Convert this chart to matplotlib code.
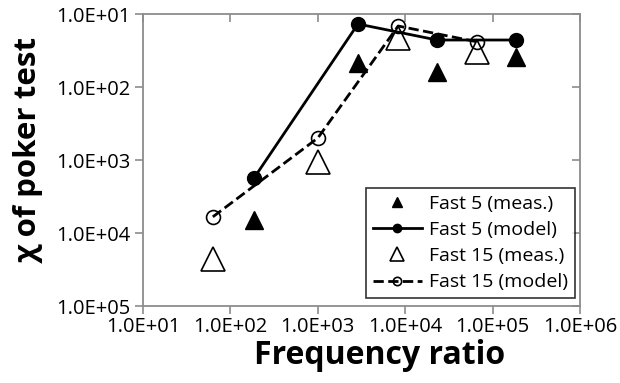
import math
import matplotlib
matplotlib.use('Agg')
import matplotlib.pyplot as plt
from matplotlib.ticker import FixedLocator, NullLocator

# data (y axis shown in reverse order)
f5_meas_x = [186, 2880, 23100, 186000]
f5_meas_y = [6600, 47, 62, 39]
f5_model_x = [186, 2880, 23100, 186000]
f5_model_y = [1770, 13.7, 22.7, 22.7]
f15_meas_x = [63, 1000, 8300, 66000]
f15_meas_y = [23000, 1070, 21, 33]
f15_model_x = [63, 1000, 8300, 66000]
f15_model_y = [6000, 500, 14.6, 24]

xticks = [1e1, 1e2, 1e3, 1e4, 1e5, 1e6]
yticks = [1e1, 1e2, 1e3, 1e4, 1e5]

plt.rcParams['font.family'] = ['Open Sans', 'DejaVu Sans']
gray = '#8c8c8c'

fig = plt.figure(figsize=(6.2, 3.83), dpi=100)
ax = fig.add_axes([0.2306, 0.201, 0.705, 0.7624])

ax.plot(f5_meas_x, f5_meas_y, linestyle='none', marker='^', color='black',
        markersize=13, label='Fast 5 (meas.)', zorder=3)
ax.plot(f5_model_x, f5_model_y, linestyle='-', linewidth=2, marker='o', color='black',
        markersize=10, label='Fast 5 (model)', zorder=4)
ax.plot(f15_meas_x, f15_meas_y, linestyle='none', marker='^', markerfacecolor='white',
        markeredgecolor='black', markeredgewidth=1.2, markersize=17,
        label='Fast 15 (meas.)', zorder=3)
ax.plot(f15_model_x, f15_model_y, linestyle='--', linewidth=2, marker='o', color='black',
        markerfacecolor='none', markeredgewidth=1.2, markersize=10,
        label='Fast 15 (model)', zorder=4)

ax.set_xscale('log')
ax.set_yscale('log')
ax.set_xlim(1e1, 1e6)
ax.set_ylim(1e5, 1e1)
ax.xaxis.set_major_locator(FixedLocator(xticks))
ax.yaxis.set_major_locator(FixedLocator(yticks))
ax.xaxis.set_minor_locator(NullLocator())
ax.yaxis.set_minor_locator(NullLocator())
ax.set_xticklabels(['1.0E+%02d' % round(math.log10(v)) for v in xticks])
ax.set_yticklabels(['1.0E+%02d' % round(math.log10(v)) for v in yticks])
ax.tick_params(axis='both', labelsize=14.5, color=gray, width=1.2, length=6, direction='out')
ax.tick_params(axis='x', pad=2)
ax.tick_params(axis='y', pad=3)
for s in ax.spines.values():
    s.set_color(gray)
    s.set_linewidth(1.3)

# inward ticks on top and right
top = ax.secondary_xaxis('top')
top.xaxis.set_major_locator(FixedLocator(xticks))
top.xaxis.set_minor_locator(NullLocator())
top.tick_params(direction='in', labeltop=False, color=gray, width=1.2, length=6)
top.spines['top'].set_visible(False)
right = ax.secondary_yaxis('right')
right.yaxis.set_major_locator(FixedLocator(yticks))
right.yaxis.set_minor_locator(NullLocator())
right.tick_params(direction='in', labelright=False, color=gray, width=1.2, length=6)
right.spines['right'].set_visible(False)

ax.set_xlabel('Frequency ratio', fontsize=23, fontweight='bold')
ax.xaxis.set_label_coords(0.542, -0.112)
ax.set_ylabel('\u03c7 of poker test', fontsize=22.5, fontweight='bold')
ax.yaxis.set_label_coords(-0.226, 0.534)

leg = ax.legend(loc='lower right', fontsize=14, markerscale=0.6, frameon=True,
                fancybox=False, edgecolor='black', handlelength=2.5,
                borderpad=0.35, labelspacing=0.42, handletextpad=0.4,
                borderaxespad=0, bbox_to_anchor=(0.989, 0.027))
leg.get_frame().set_linewidth(1.2)

fig.savefig('out.png', dpi=100)
